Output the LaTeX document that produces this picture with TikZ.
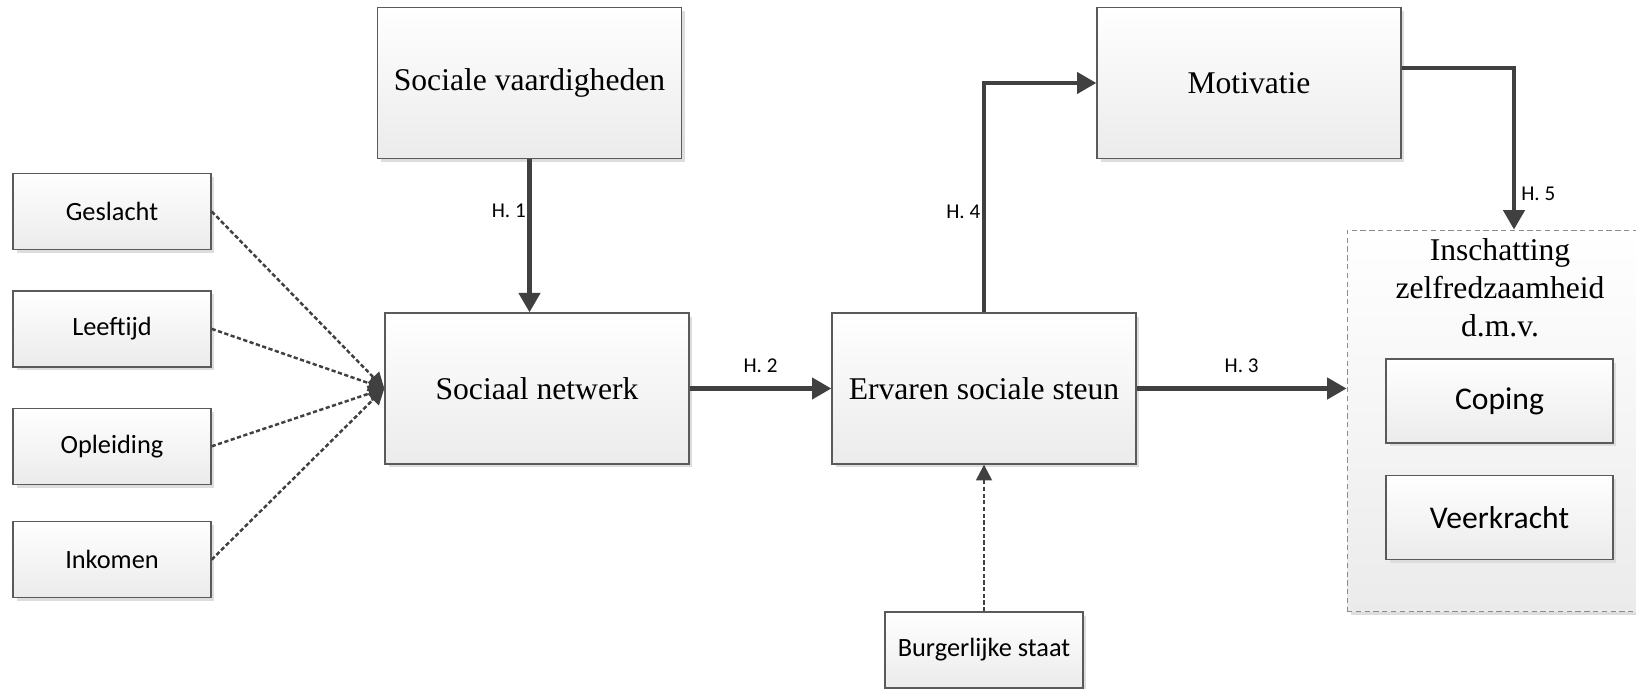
\documentclass[tikz,border=0pt]{standalone}
\usepackage{fontspec}
\setmainfont{Liberation Serif}
\newfontfamily\calibrifont{Carlito}
\usetikzlibrary{arrows.meta,positioning,shadows}
\definecolor{cmgray}{HTML}{404040}
\definecolor{cmline}{HTML}{5A5A5A}
\definecolor{cmfill}{HTML}{EBEBEB}
\definecolor{cmshadow}{HTML}{DDDDDD}
\definecolor{cmdash}{HTML}{8C8C8C}

\begin{document}
\begin{tikzpicture}[
  x=0.02cm,y=0.02cm,
  R/.style={draw=cmline,line width=0.8pt,top color=white,bottom color=cmfill,
            minimum width=6.08cm,minimum height=3.02cm,align=center,
            font=\fontsize{18}{21.5}\selectfont,
            drop shadow={shadow xshift=0.07cm,shadow yshift=-0.07cm,
                         fill=cmshadow,opacity=1}},
  S/.style={R,minimum width=3.96cm,minimum height=1.52cm,
            font=\calibrifont\fontsize{15}{18}\selectfont},
  C/.style={R,minimum width=4.54cm,minimum height=1.68cm,
            font=\calibrifont\fontsize{18}{21.5}\selectfont},
  G/.style={draw=cmdash,line width=0.6pt,dash pattern=on 3pt off 2pt,
            top color=white,bottom color=cmfill,
            minimum width=6.12cm,minimum height=7.64cm,
            drop shadow={shadow xshift=0.07cm,shadow yshift=-0.07cm,
                         fill=cmshadow,opacity=1}},
  ar/.style={-{Triangle[length=11pt,width=12pt]},line width=2.3pt,cmgray},
  ad/.style={-{Triangle[length=9pt,width=9pt]},line width=1.4pt,cmgray,
             dash pattern=on 2.4pt off 1.4pt},
  hl/.style={font=\calibrifont\fontsize{12}{14}\selectfont,inner sep=1pt,text=black}
]
\useasboundingbox (0,0) rectangle (1636,689);

\node[R](sv) at (529.5,606){Sociale vaardigheden};
\node[R](sn) at (537,300.5){Sociaal netwerk};
\node[R](erv) at (984,300.5){Ervaren sociale steun};
\node[R](mot) at (1249,606){Motivatie};

\node[S](gesl) at (112,477.5){Geslacht};
\node[S,below=0.8cm of gesl](leef){Leeftijd};
\node[S,below=0.8cm of leef](opl){Opleiding};
\node[S,below=0.72cm of opl](ink){Inkomen};
\node[S](burg) at (984,39){Burgerlijke staat};

\node[G](zelf) at (1500,268){};
\node[below=0.18cm of zelf.north,inner sep=0,align=center,
      font=\fontsize{18}{21.5}\selectfont](ttl)
     {Inschatting\\zelfredzaamheid\\d.m.v.};
\node[C](cop) at (1499.5,288){Coping};
\node[C,below=0.62cm of cop](veer){Veerkracht};

\draw[ar](sv.south)--node[hl,left,pos=.34]{H. 1}(sv.south|-sn.north);
\draw[ar](sn.east)--node[hl,above=7pt]{H. 2}(erv.west);
\draw[ar](erv.east)--node[hl,above=7pt]{H. 3}(erv.east-|zelf.west);
\draw[ar](erv.north)|-node[hl,left,pos=.22]{H. 4}(mot.west);
\draw[ar]([yshift=0.3cm]mot.east)-|node[hl,right=2pt,pos=.89]{H. 5}
     ([xshift=0.28cm]zelf.north);

\draw[ad](burg.north)--(erv.south);
\foreach \n in {gesl,leef,opl,ink}{
  \draw[ad](\n.east)--(sn.west);
}
\end{tikzpicture}
\end{document}
